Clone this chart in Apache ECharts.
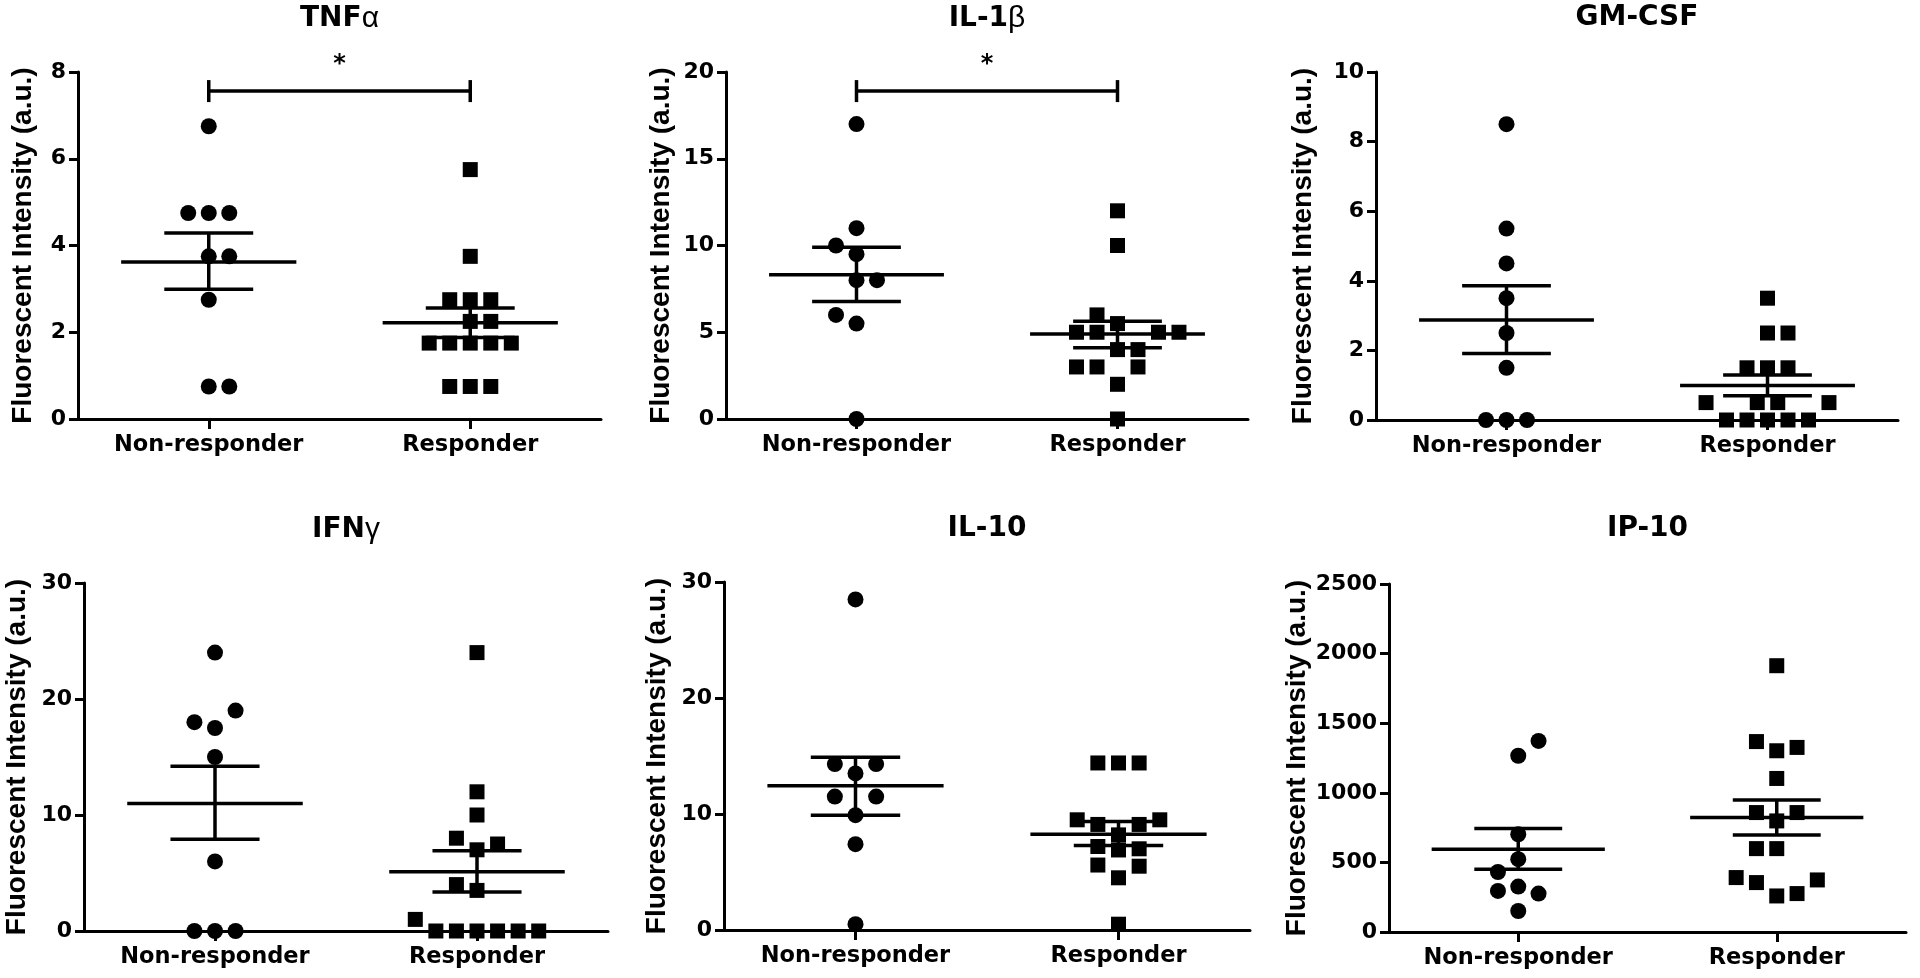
<!DOCTYPE html>
<html>
<head>
<meta charset="utf-8">
<script src="https://cdn.jsdelivr.net/npm/echarts@6/dist/echarts.min.js"></script>
<style>
html,body{margin:0;padding:0;background:#fff;}
#chart{width:1920px;height:978px;}
</style>
</head>
<body>
<div id="chart"></div>
<script>
// ---------- DATA ----------
const categories = ['Non-responder', 'Responder'];
const panelTitles = ['TNFα', 'IL-1β', 'GM-CSF', 'IFNγ', 'IL-10', 'IP-10'];
const yAxisName = 'Fluorescent Intensity (a.u.)';
const yMax = [8, 20, 10, 30, 30, 2500];
const yStep = [2, 5, 2, 10, 10, 500];

// TNFα
const tnf_nr = [6.75, 4.75, 4.75, 4.75, 3.75, 3.75, 2.75, 0.75, 0.75];
const tnf_nr_slot = [0, -1, 0, 1, 0, 1, 0, 0, 1];
const tnf_r = [5.75, 3.75, 2.75, 2.75, 2.75, 2.25, 2.25, 1.75, 1.75, 1.75, 1.75, 1.75, 0.75, 0.75, 0.75];
const tnf_r_slot = [0, 0, -1, 0, 1, 0, 1, -2, -1, 0, 1, 2, -1, 0, 1];
const tnf_mean = [3.62, 2.22];
const tnf_hi = [4.29, 2.56];
const tnf_lo = [2.99, 1.88];

// IL-1β
const il1b_nr = [17, 11, 10, 9.5, 8, 8, 6, 5.5, 0];
const il1b_nr_slot = [0, 0, -1, 0, 0, 1, -1, 0, 0];
const il1b_r = [12, 10, 6, 5.5, 5, 5, 5, 5, 4, 4, 3, 3, 3, 2, 0];
const il1b_r_slot = [0, 0, -1, 0, -2, -1, 2, 3, 0, 1, -2, -1, 1, 0, 0];
const il1b_mean = [8.31, 4.9];
const il1b_hi = [9.9, 5.63];
const il1b_lo = [6.77, 4.1];

// GM-CSF
const gm_nr = [8.5, 5.5, 4.5, 3.5, 2.5, 1.5, 0, 0, 0];
const gm_nr_slot = [0, 0, 0, 0, 0, 0, -1, 0, 1];
const gm_r = [3.5, 2.5, 2.5, 1.5, 1.5, 1.5, 0.5, 0.5, 0.5, 0.5, 0, 0, 0, 0, 0];
const gm_r_slot = [0, 0, 1, -1, 0, 1, -3, -0.5, 0.5, 3, -2, -1, 0, 1, 2];
const gm_mean = [2.87, 0.99];
const gm_hi = [3.86, 1.29];
const gm_lo = [1.91, 0.70];

// IFNγ
const ifn_nr = [24, 19, 18, 17.5, 15, 6, 0, 0, 0];
const ifn_nr_slot = [0, 1, -1, 0, 0, 0, -1, 0, 1];
const ifn_r = [24, 12, 10, 8, 7.5, 7, 4, 3.5, 1, 0, 0, 0, 0, 0, 0];
const ifn_r_slot = [0, 0, 0, -1, 1, 0, -1, 0, -3, -2, -1, 0, 1, 2, 3];
const ifn_mean = [11.0, 5.1];
const ifn_hi = [14.2, 6.91];
const ifn_lo = [7.92, 3.37];

// IL-10
const il10_nr = [28.5, 14.3, 14.3, 13.5, 11.5, 11.5, 9.9, 7.4, 0.5];
const il10_nr_slot = [0, -1, 1, 0, -1, 1, 0, 0, 0];
const il10_r = [14.4, 14.4, 14.4, 9.5, 9.5, 9.1, 9.1, 8.2, 7.2, 6.9, 7.0, 5.6, 5.5, 4.5, 0.5];
const il10_r_slot = [-1, 0, 1, -2, 2, -1, 1, 0, -1, 0, 1, -1, 1, 0, 0];
const il10_mean = [12.44, 8.26];
const il10_hi = [14.9, 9.36];
const il10_lo = [9.9, 7.28];

// IP-10
const ip_nr = [1373, 1266, 702, 523, 431, 326, 295, 276, 151];
const ip_nr_slot = [1, 0, 0, 0, -1, 0, -1, 1, 0];
const ip_r = [1913, 1368, 1302, 1326, 1103, 858, 858, 798, 599, 599, 391, 355, 374, 259, 276];
const ip_r_slot = [0, -1, 0, 1, 0, -1, 1, 0, -1, 0, -2, -1, 2, 0, 1];
const ip_mean = [594, 822];
const ip_hi = [743, 949];
const ip_lo = [451, 697];

// significance brackets (value level, label)
const sig_level = [7.56, 18.9, null, null, null, null];
const sig_label = '*';

// ---------- LAYOUT / STYLE ----------
const layout = [
  {left: 78,   top: 72,  width: 523, height: 347, nameGap: 41},
  {left: 726,  top: 72,  width: 522, height: 347, nameGap: 51},
  {left: 1376, top: 72,  width: 522, height: 348, nameGap: 59},
  {left: 84,   top: 583, width: 524, height: 348, nameGap: 53},
  {left: 724,  top: 582, width: 526, height: 348, nameGap: 53},
  {left: 1389, top: 584, width: 517, height: 348, nameGap: 78}
];
const titleTop = [4, 4, 4, 515, 515, 515];
const FONT_H = "'DejaVu Sans', 'Liberation Sans', sans-serif";   // horizontal text
const FONT_V = "'Liberation Sans', Arial, sans-serif";           // rotated axis name
const SLOT_W = 0.0785;     // jitter column step, in category units
const MEAN_HALF = 0.335;   // half-length of mean line (category units)
const CAP_HALF = 0.17;     // half-length of SEM caps
const LW_AXIS = 3;
const LW_MEAN = 3.5;

const groups = [
  [tnf_nr, tnf_nr_slot, tnf_r, tnf_r_slot, tnf_mean, tnf_hi, tnf_lo],
  [il1b_nr, il1b_nr_slot, il1b_r, il1b_r_slot, il1b_mean, il1b_hi, il1b_lo],
  [gm_nr, gm_nr_slot, gm_r, gm_r_slot, gm_mean, gm_hi, gm_lo],
  [ifn_nr, ifn_nr_slot, ifn_r, ifn_r_slot, ifn_mean, ifn_hi, ifn_lo],
  [il10_nr, il10_nr_slot, il10_r, il10_r_slot, il10_mean, il10_hi, il10_lo],
  [ip_nr, ip_nr_slot, ip_r, ip_r_slot, ip_mean, ip_hi, ip_lo]
];

const grid = [], xAxis = [], yAxis = [], series = [], title = [];

function richTitle(t) {
  return t.replace(/([α-ω]+)/g, '{g|$1}').replace(/^([^{]+)/, '{b|$1}');
}

groups.forEach((g, i) => {
  const L = layout[i];
  grid.push({left: L.left, top: L.top, width: L.width, height: L.height, containLabel: false});
  title.push({
    text: richTitle(panelTitles[i]),
    left: L.left + L.width / 2, top: titleTop[i], textAlign: 'center', padding: 0,
    textStyle: {
      rich: {
        b: {fontFamily: FONT_H, fontWeight: 'bold', fontSize: 28, color: '#000'},
        g: {fontFamily: FONT_V, fontWeight: 'normal', fontSize: 30, color: '#000'}
      },
      fontFamily: FONT_H, fontWeight: 'bold', fontSize: 28, color: '#000'
    }
  });
  // category axis (visible)
  xAxis.push({
    type: 'category', gridIndex: i, data: categories, boundaryGap: true,
    axisLine: {show: true, lineStyle: {color: '#000', width: LW_AXIS}},
    axisTick: {show: true, alignWithLabel: true, length: 10, lineStyle: {color: '#000', width: LW_AXIS}},
    axisLabel: {color: '#000', fontFamily: FONT_H, fontWeight: 'bold', fontSize: 22.5, margin: 15},
    splitLine: {show: false}
  });
  // value axis (hidden) for jittered points
  xAxis.push({type: 'value', gridIndex: i, min: 0, max: 2, show: false});
  yAxis.push({
    type: 'value', gridIndex: i, min: 0, max: yMax[i], interval: yStep[i],
    name: yAxisName, nameLocation: 'middle', nameRotate: 90, nameGap: L.nameGap,
    nameTextStyle: {color: '#000', fontFamily: FONT_V, fontWeight: 'bold', fontSize: 28},
    axisLine: {show: true, lineStyle: {color: '#000', width: LW_AXIS}},
    axisTick: {show: true, length: 9, lineStyle: {color: '#000', width: LW_AXIS}},
    axisLabel: {color: '#000', fontFamily: FONT_H, fontWeight: 'bold', fontSize: 22, margin: 12,
                formatter: function (v) { return String(v); }},
    splitLine: {show: false}
  });
  const [nr, nrSlot, r, rSlot, mean, hi, lo] = g;
  const xi = i * 2 + 1;
  series.push({
    type: 'scatter', xAxisIndex: xi, yAxisIndex: i, symbol: 'circle', symbolSize: 16,
    itemStyle: {color: '#000', opacity: 1}, clip: false, z: 3,
    data: nr.map((v, k) => [0.5 + nrSlot[k] * SLOT_W, v])
  });
  series.push({
    type: 'scatter', xAxisIndex: xi, yAxisIndex: i, symbol: 'rect', symbolSize: 15,
    itemStyle: {color: '#000', opacity: 1}, clip: false, z: 3,
    data: r.map((v, k) => [1.5 + rSlot[k] * SLOT_W, v])
  });
  // mean ± SEM
  series.push({
    type: 'custom', xAxisIndex: xi, yAxisIndex: i, z: 5, clip: false,
    data: mean.map((m, k) => [k + 0.5, m, lo[k], hi[k]]),
    renderItem: function (params, api) {
      const c = api.value(0), m = api.value(1), l = api.value(2), h = api.value(3);
      const pm0 = api.coord([c - MEAN_HALF, m]), pm1 = api.coord([c + MEAN_HALF, m]);
      const pl0 = api.coord([c - CAP_HALF, l]), pl1 = api.coord([c + CAP_HALF, l]);
      const ph0 = api.coord([c - CAP_HALF, h]), ph1 = api.coord([c + CAP_HALF, h]);
      const pc = api.coord([c, 0]);
      const st = {stroke: '#000', lineWidth: LW_MEAN, lineCap: 'butt'};
      return {
        type: 'group', children: [
          {type: 'line', shape: {x1: pm0[0], y1: pm0[1], x2: pm1[0], y2: pm1[1]}, style: st},
          {type: 'line', shape: {x1: pl0[0], y1: pl0[1], x2: pl1[0], y2: pl1[1]}, style: st},
          {type: 'line', shape: {x1: ph0[0], y1: ph0[1], x2: ph1[0], y2: ph1[1]}, style: st},
          {type: 'line', shape: {x1: pc[0], y1: pl0[1], x2: pc[0], y2: ph0[1]}, style: st}
        ]
      };
    }
  });
  if (sig_level[i] != null) {
    series.push({
      type: 'custom', xAxisIndex: xi, yAxisIndex: i, z: 5, clip: false,
      data: [[0.5, 1.5, sig_level[i]]],
      renderItem: function (params, api) {
        const a = api.coord([api.value(0), api.value(2)]);
        const b = api.coord([api.value(1), api.value(2)]);
        const st = {stroke: '#000', lineWidth: LW_MEAN};
        return {
          type: 'group', children: [
            {type: 'line', shape: {x1: a[0], y1: a[1], x2: b[0], y2: b[1]}, style: st},
            {type: 'line', shape: {x1: a[0], y1: a[1] - 11, x2: a[0], y2: a[1] + 11}, style: st},
            {type: 'line', shape: {x1: b[0], y1: b[1] - 11, x2: b[0], y2: b[1] + 11}, style: st},
            {type: 'text', x: (a[0] + b[0]) / 2, y: a[1] - 26,
             style: {text: sig_label, fill: '#000', font: 'bold 24px ' + FONT_H, textAlign: 'center', textVerticalAlign: 'middle'}}
          ]
        };
      }
    });
  }
});

const chart = echarts.init(document.getElementById('chart'), null, {renderer: 'canvas'});
chart.setOption({
  backgroundColor: '#fff',
  animation: false,
  title: title,
  grid: grid,
  xAxis: xAxis,
  yAxis: yAxis,
  series: series
});
</script>
</body>
</html>
